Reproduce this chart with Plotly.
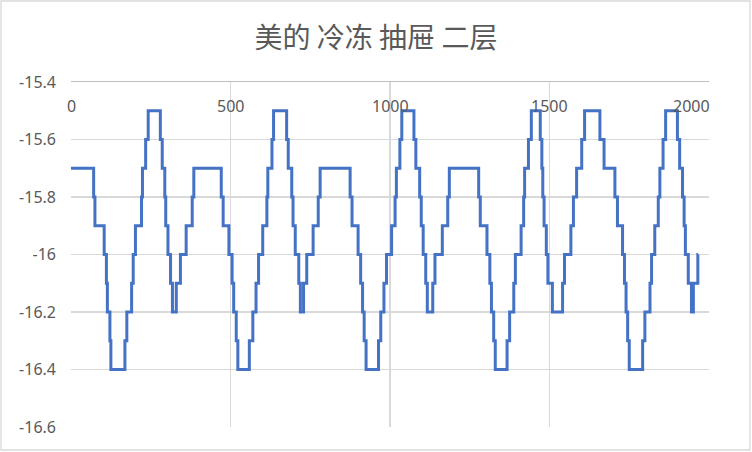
import plotly.graph_objects as go

# step data: x where a level starts, and that level
STEP_X = [
    0, 71, 75, 104, 111, 114, 122, 125, 169, 175, 190, 195, 202, 221, 224,
    234, 242, 280, 286, 294, 297, 304, 312, 318, 330, 343, 361, 380, 385,
    471, 477, 495, 505, 510, 518, 523, 559, 570, 580, 588, 601, 614, 617,
    630, 635, 676, 681, 692, 696, 703, 714, 719, 729, 739, 759, 775, 781,
    875, 881, 900, 908, 914, 919, 925, 964, 971, 981, 989, 1005, 1016, 1020,
    1031, 1037, 1075, 1081, 1093, 1098, 1104, 1112, 1117, 1134, 1141, 1164,
    1181, 1186, 1278, 1283, 1304, 1313, 1318, 1325, 1330, 1367, 1375, 1388,
    1393, 1411, 1419, 1422, 1434, 1443, 1471, 1476, 1479, 1483, 1490, 1495,
    1509, 1541, 1547, 1567, 1575, 1585, 1601, 1610, 1658, 1671, 1705, 1713,
    1729, 1735, 1740, 1745, 1750, 1792, 1799, 1815, 1820, 1830, 1841, 1846,
    1856, 1864, 1901, 1908, 1917, 1922, 1926, 1935, 1945, 1947, 1949, 1951,
    1965,
]
STEP_Y = [
    -15.7, -15.8, -15.9, -16.0, -16.1, -16.2, -16.3, -16.4, -16.3, -16.2,
    -16.1, -16.0, -15.9, -15.8, -15.7, -15.6, -15.5, -15.6, -15.7, -15.8,
    -15.9, -16.0, -16.1, -16.2, -16.1, -16.0, -15.9, -15.8, -15.7,
    -15.8, -15.9, -16.0, -16.1, -16.2, -16.3, -16.4, -16.3, -16.2, -16.1,
    -16.0, -15.9, -15.8, -15.7, -15.6, -15.5, -15.6, -15.7, -15.8, -15.9,
    -16.0, -16.1, -16.2, -16.1, -16.0, -15.9, -15.8, -15.7,
    -15.8, -15.9, -16.0, -16.1, -16.2, -16.3, -16.4, -16.3, -16.2, -16.1,
    -16.0, -15.9, -15.8, -15.7, -15.6, -15.5, -15.6, -15.7, -15.8, -15.9,
    -16.0, -16.1, -16.2, -16.1, -16.0, -15.9, -15.8, -15.7,
    -15.8, -15.9, -16.0, -16.1, -16.2, -16.3, -16.4, -16.3, -16.2, -16.1,
    -16.0, -15.9, -15.8, -15.7, -15.6, -15.5, -15.6, -15.7, -15.8, -15.9,
    -16.0, -16.1, -16.2, -16.1, -16.0, -15.9, -15.8, -15.7, -15.6, -15.5,
    -15.6, -15.7, -15.8, -15.9, -16.0, -16.1, -16.2, -16.3, -16.4, -16.3,
    -16.2, -16.1, -16.0, -15.9, -15.8, -15.7, -15.6, -15.5, -15.6, -15.7,
    -15.8, -15.9, -16.0, -16.1, -16.2, -16.1, -16.2, -16.1, -16.0,
]
END_X = 1966

X_TICKS = [0, 500, 1000, 1500, 2000]
Y_TICKS = [-16.6, -16.4, -16.2, -16.0, -15.8, -15.6, -15.4]
Y_LABELS = ["-16.6", "-16.4", "-16.2", "-16", "-15.8", "-15.6", "-15.4"]

TITLE = "美的 冷冻 抽屉 二层"

W, H = 752, 452
ML, MR, MT, MB = 71, 43, 82, 25
GRID = "#D9D9D9"
TEXT = "#595959"
LINE = "#4472C4"

xs = STEP_X + [END_X]
ys = STEP_Y + [STEP_Y[-1]]

fig = go.Figure()
fig.add_trace(go.Scatter(
    x=xs, y=ys, mode="lines", line_shape="hv",
    line=dict(color=LINE, width=3), showlegend=False, hoverinfo="skip",
))

# x tick labels sit inside the plot just under the top axis line
for i, v in enumerate(X_TICKS):
    last = i == len(X_TICKS) - 1
    fig.add_annotation(
        x=v, y=1, xref="x", yref="paper", text=str(v), showarrow=False,
        xanchor="right" if last else "center", xshift=3 if last else 0,
        yanchor="middle", yshift=-24,
        font=dict(family="Noto Sans", size=16, color=TEXT),
    )

# chart area border
pw, ph = W - ML - MR, H - MT - MB
fig.add_shape(
    type="rect", xref="paper", yref="paper", layer="below",
    x0=(1 - ML) / pw, x1=(W - 2 - ML) / pw,
    y0=-(MB - 2) / ph, y1=1 + (MT - 1) / ph,
    line=dict(color=GRID, width=1.3),
)

fig.update_layout(
    width=W, height=H,
    margin=dict(l=ML, r=MR, t=MT, b=MB),
    paper_bgcolor="white", plot_bgcolor="white",
    title=dict(
        text=TITLE, x=0.5, xref="container", xanchor="center",
        y=1 - 38 / H, yref="container", yanchor="middle",
        font=dict(family="Noto Sans CJK SC", size=28, color=TEXT),
    ),
    xaxis=dict(
        range=[0, 2000], tickvals=X_TICKS, showticklabels=False,
        showgrid=True, gridcolor=GRID, gridwidth=1.3, zeroline=False,
        side="top", showline=True, linecolor="#BFBFBF", linewidth=1.3,
        fixedrange=True,
    ),
    yaxis=dict(
        range=[-16.6, -15.4], tickvals=Y_TICKS, ticktext=Y_LABELS,
        showgrid=True, gridcolor=GRID, gridwidth=1.3, zeroline=False,
        showline=False, ticklabelstandoff=14,
        tickfont=dict(family="Noto Sans", size=16, color=TEXT),
        fixedrange=True,
    ),
)

# drop the page's default body margin so the chart sits at the window corner
fig.write_html(
    "out.html",
    config={"displayModeBar": False, "staticPlot": True},
    post_script="document.body.style.margin='0';",
)
